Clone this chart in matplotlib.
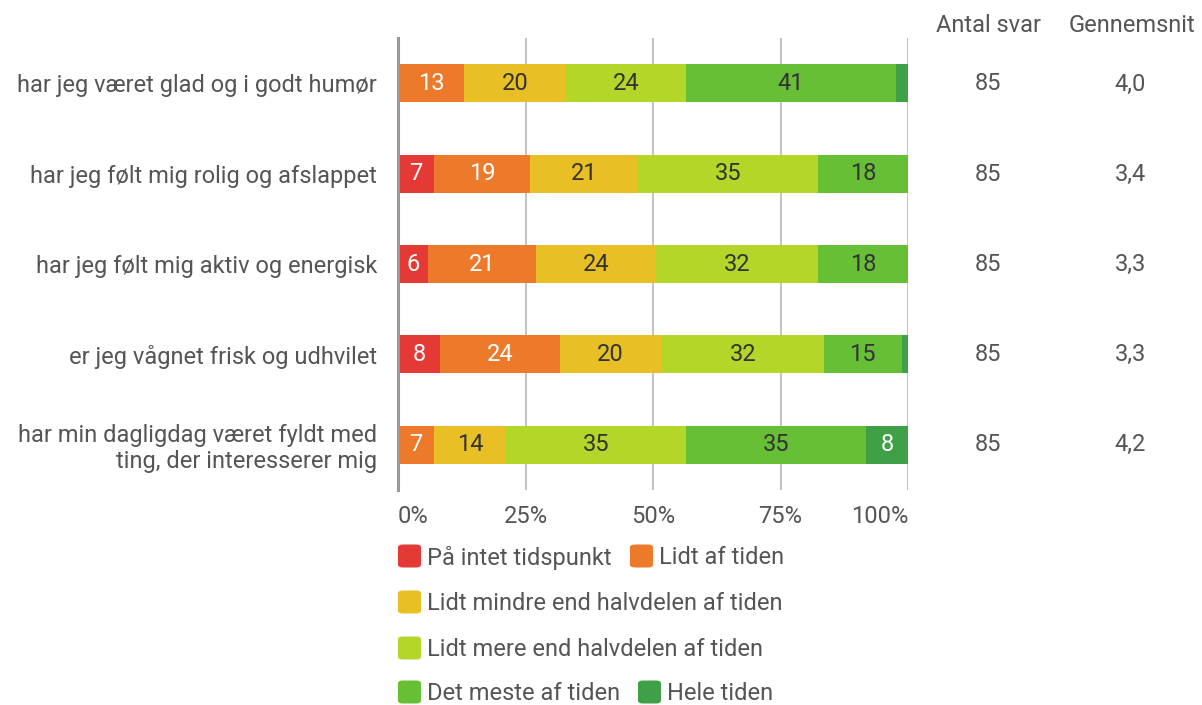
import matplotlib
matplotlib.use("Agg")
import matplotlib.pyplot as plt
from matplotlib.patches import FancyBboxPatch
import numpy as np

plt.rcParams['font.family'] = ['Roboto', 'DejaVu Sans']

categories = [
    "har jeg været glad og i godt humør",
    "har jeg følt mig rolig og afslappet",
    "har jeg følt mig aktiv og energisk",
    "er jeg vågnet frisk og udhvilet",
    "har min dagligdag været fyldt med\nting, der interesserer mig",
]
series_names = [
    "På intet tidspunkt",
    "Lidt af tiden",
    "Lidt mindre end halvdelen af tiden",
    "Lidt mere end halvdelen af tiden",
    "Det meste af tiden",
    "Hele tiden",
]
# percentages per series (rows = categories)
pa_intet   = [0.0, 7.1, 5.9, 8.2, 0.0]
lidt       = [12.9, 18.8, 21.2, 23.5, 7.1]
mindre     = [20.0, 21.2, 23.5, 20.0, 14.1]
mere       = [23.5, 35.3, 31.8, 31.8, 35.3]
meste      = [41.2, 17.6, 17.6, 15.3, 35.3]
hele       = [2.4, 0.0, 0.0, 1.2, 8.2]
antal_svar = ["85", "85", "85", "85", "85"]
gennemsnit = ["4,0", "3,4", "3,3", "3,3", "4,2"]
tick_labels = ["0%", "25%", "50%", "75%", "100%"]

series = [pa_intet, lidt, mindre, mere, meste, hele]
colors = ["#E53935", "#EC7A2A", "#E8BF24", "#B3D629", "#66BF35", "#40A047"]
text_colors = ["white", "white", "#333333", "#333333", "#333333", "white"]

FS = 17
W, H = 1202, 705
fig = plt.figure(figsize=(W / 100, H / 100), dpi=100)
ax = fig.add_axes([398 / W, 1 - 490 / H, 510 / W, 452 / H])

y = np.arange(len(categories))
left = np.zeros(len(categories))
for vals, col, tcol in zip(series, colors, text_colors):
    vals = np.array(vals)
    ax.barh(y, vals, left=left, height=0.42, color=col, zorder=3)
    for yi, (l, v) in enumerate(zip(left, vals)):
        if v >= 4:
            ax.text(l + v / 2, yi, f"{round(v):d}", ha="center", va="center",
                    fontsize=FS, color=tcol, zorder=4)
    left += vals

ax.set_xlim(0, 100)
ax.set_ylim(len(categories) - 0.5, -0.5)
ax.set_xticks([0, 25, 50, 75, 100])
ax.set_xticklabels(tick_labels, fontsize=FS, color="#555555")
tl = ax.get_xticklabels()
tl[0].set_ha("left")
tl[-1].set_ha("right")
ax.set_yticks(y)
ax.set_yticklabels(categories, fontsize=FS, color="#555555", linespacing=1.15)
ax.tick_params(axis="both", length=0)
ax.tick_params(axis="x", pad=11)
ax.tick_params(axis="y", pad=15)
for sp in ["top", "right", "bottom"]:
    ax.spines[sp].set_visible(False)
ax.spines["left"].set_color("#999999")
ax.spines["left"].set_linewidth(2.2)
ax.spines["left"].set_zorder(5)
for xv in [25, 50, 75, 100]:
    ax.axvline(xv, color="#c4c4c4", lw=1.5, zorder=1)

# side columns
fig.text(988 / W, 1 - 25 / H, "Antal svar", ha="center", va="center", fontsize=FS, color="#555555")
fig.text(1132 / W, 1 - 25 / H, "Gennemsnit", ha="center", va="center", fontsize=FS, color="#555555")
for yi in range(len(categories)):
    yc = 84 + 90.2 * yi
    fig.text(988 / W, 1 - yc / H, antal_svar[yi], ha="center", va="center", fontsize=FS, color="#555555")
    fig.text(1130 / W, 1 - yc / H, gennemsnit[yi], ha="center", va="center", fontsize=FS, color="#555555")

# legend
legend_layout = [(0, 398, 556), (1, 630, 556), (2, 398, 602), (3, 398, 648), (4, 398, 692), (5, 638, 692)]
for idx, xpx, ypx in legend_layout:
    sz = 23
    p = FancyBboxPatch(((xpx) / W, 1 - (ypx + sz / 2) / H), sz / W, sz / H,
                       boxstyle="round,pad=0,rounding_size=0.004",
                       transform=fig.transFigure, facecolor=colors[idx], edgecolor="none")
    fig.patches.append(p)
    fig.text((xpx + 29) / W, 1 - (ypx + 2) / H, series_names[idx], ha="left", va="center",
             fontsize=FS, color="#555555")

fig.savefig("out.png", dpi=100)
